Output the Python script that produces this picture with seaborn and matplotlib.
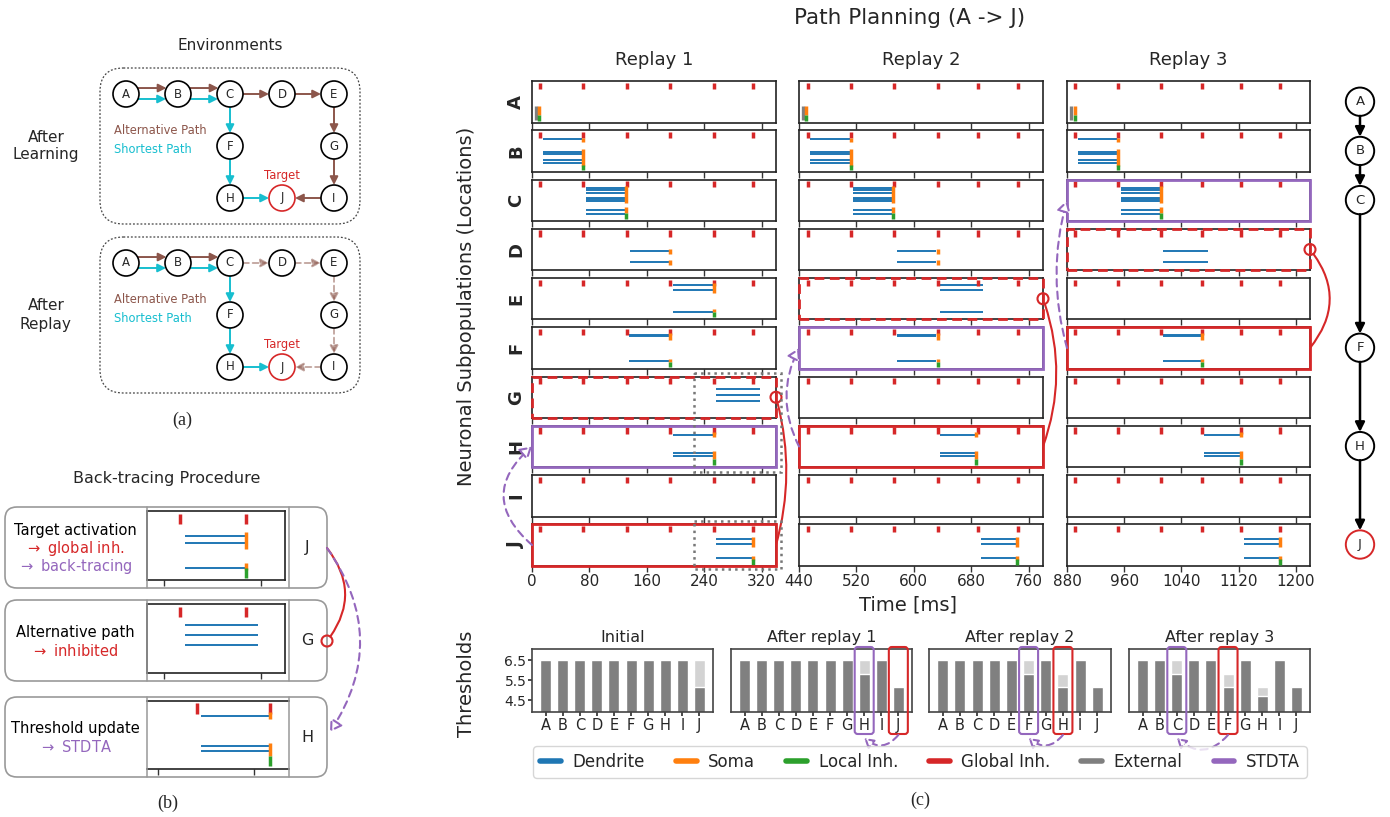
import numpy as np
import pandas as pd
import matplotlib
matplotlib.use("Agg")
import matplotlib.pyplot as plt
import seaborn as sns
from matplotlib.patches import Rectangle, FancyBboxPatch, FancyArrowPatch, Circle
from matplotlib.lines import Line2D
from matplotlib.transforms import Affine2D

# ------------------------------------------------------------------ data
LOCATIONS = list("ABCDEFGHIJ")
REPLAY_TITLES = ["Replay 1", "Replay 2", "Replay 3"]
REPLAY_XLIM = [(0, 340), (440, 780), (880, 1220)]
REPLAY_XTICKS = [[0, 80, 160, 240, 320], [440, 520, 600, 680, 760], [880, 960, 1040, 1120, 1200]]
GLOBAL_INH_TIMES = [[11, 71, 132, 192, 253, 308],
                    [452, 512, 572, 633, 690, 745],
                    [891, 951, 1012, 1069, 1123, 1178]]

# neuron levels (fraction of the row height) of dendritic plateaus per location
DENDRITE_LEVELS = {
    "B": [0.80, 0.47, 0.43, 0.29, 0.20],
    "C": [0.79, 0.75, 0.67, 0.56, 0.52, 0.48, 0.27, 0.16],
    "D": [0.47, 0.19],
    "E": [0.83, 0.72, 0.18],
    "F": [0.81, 0.78, 0.18],
    "G": [0.70, 0.55, 0.41],
    "H": [0.78, 0.34, 0.26],
    "J": [0.64, 0.53, 0.18],
}
# (replay, location, start ms, end ms)
DENDRITE_BURSTS = [
    (0, "B", 15, 70), (0, "C", 75, 130), (0, "D", 136, 191), (0, "E", 197, 252),
    (0, "F", 135, 191), (0, "G", 257, 318), (0, "H", 196, 252), (0, "J", 257, 307),
    (1, "B", 455, 511), (1, "C", 515, 570), (1, "D", 576, 631), (1, "E", 637, 697),
    (1, "F", 576, 631), (1, "H", 637, 685), (1, "J", 693, 743),
    (2, "B", 895, 950), (2, "C", 955, 1010), (2, "D", 1015, 1077),
    (2, "F", 1015, 1068), (2, "H", 1072, 1122), (2, "J", 1127, 1177),
]
SOMA_SPANS = {
    "A": [(0.17, 0.39)], "B": [(0.71, 0.81), (0.15, 0.56)], "C": [(0.43, 0.84), (0.20, 0.34)],
    "D": [(0.40, 0.52), (0.12, 0.24)], "E": [(0.65, 0.87), (0.17, 0.25)],
    "F": [(0.70, 0.85), (0.17, 0.24)], "H": [(0.73, 0.84), (0.20, 0.38)],
    "J": [(0.45, 0.70), (0.14, 0.24)],
}
SOMA_TIMES = [
    (0, "A", 9.5), (0, "B", 71), (0, "C", 131), (0, "D", 192), (0, "E", 253), (0, "F", 192),
    (0, "H", 253), (0, "J", 308),
    (1, "A", 450), (1, "B", 512), (1, "C", 571), (1, "D", 633), (1, "F", 633),
    (1, "H", 686), (1, "J", 744),
    (2, "A", 890.5), (2, "B", 952), (2, "C", 1011), (2, "F", 1069), (2, "H", 1123), (2, "J", 1178),
]
LOCAL_INH_SPANS = {"A": (0.04, 0.17), "B": (0.05, 0.17), "C": (0.05, 0.20), "E": (0.05, 0.17),
                   "F": (0.05, 0.17), "H": (0.05, 0.20), "J": (0.03, 0.17)}
LOCAL_INH_TIMES = [
    (0, "A", 9.5), (0, "B", 71), (0, "C", 131), (0, "E", 253), (0, "F", 192), (0, "H", 253), (0, "J", 308),
    (1, "A", 450), (1, "B", 512), (1, "C", 571), (1, "F", 633), (1, "H", 686), (1, "J", 744),
    (2, "A", 890.5), (2, "B", 952), (2, "C", 1011), (2, "F", 1069), (2, "H", 1123), (2, "J", 1178),
]
EXTERNAL_SPAN = (0.07, 0.39)
EXTERNAL_TIMES = [(0, "A", 5.5), (1, "A", 446), (2, "A", 886)]

TARGET_ROW = ["J", "H", "F"]
INHIBITED_ROW = ["G", "E", "D"]
STDTA_ROW = ["H", "F", "C"]

THR_TITLES = ["Initial", "After replay 1", "After replay 2", "After replay 3"]
THR_DEFAULT = [6.5, 6.5, 6.5, 6.5, 6.5, 6.5, 6.5, 6.5, 6.5, 6.5]
THR_INITIAL = [6.5, 6.5, 6.5, 6.5, 6.5, 6.5, 6.5, 6.5, 6.5, 5.15]
THR_AFTER_1 = [6.5, 6.5, 6.5, 6.5, 6.5, 6.5, 6.5, 5.8, 6.5, 5.15]
THR_AFTER_2 = [6.5, 6.5, 6.5, 6.5, 6.5, 5.8, 6.5, 5.15, 6.5, 5.15]
THR_AFTER_3 = [6.5, 6.5, 5.8, 6.5, 6.5, 5.15, 6.5, 4.7, 6.5, 5.15]
THR_TICKS = [4.5, 5.5, 6.5]
THR_HIGHLIGHT = [None, ("H", "J"), ("F", "H"), ("C", "F")]

PATH = ["A", "B", "C", "F", "H", "J"]
ENV_POS = {"A": (0, 0), "B": (1, 0), "C": (2, 0), "D": (3, 0), "E": (4, 0),
           "F": (2, 1), "G": (4, 1), "H": (2, 2), "J": (3, 2), "I": (4, 2)}
ALT_EDGES = [("A", "B"), ("B", "C"), ("C", "D"), ("D", "E"), ("E", "G"), ("G", "I"), ("I", "J")]
SHORT_EDGES = [("A", "B"), ("B", "C"), ("C", "F"), ("F", "H"), ("H", "J")]
ENV_ROWS = ["After\nLearning", "After\nReplay"]

BT_ROWS = ["J", "G", "H"]
BT_XLIM = [(226, 340), (226, 340), (151, 269)]
BT_XTICKS = [[240, 320], [240, 320], [160, 240]]
BT_TEXT = [[("Target activation", "k"), ("$\\rightarrow$ global inh.", "red"), ("$\\rightarrow$ back-tracing", "purple")],
           [("Alternative path", "k"), ("$\\rightarrow$ inhibited", "red")],
           [("Threshold update", "k"), ("$\\rightarrow$ STDTA", "purple")]]

LEGEND_LABELS = ["Dendrite", "Soma", "Local Inh.", "Global Inh.", "External", "STDTA"]

# ------------------------------------------------------------------ style
sns.set_theme(style="white")
plt.rcParams["font.family"] = ["DejaVu Sans"]
pal = sns.color_palette("tab10")
C_BLUE, C_ORANGE, C_GREEN, C_RED, C_PURPLE, C_BROWN = pal[0], pal[1], pal[2], pal[3], pal[4], pal[5]
C_GRAY, C_CYAN = pal[7], pal[9]
COLORS = {"k": "black", "red": C_RED, "purple": C_PURPLE}

W, H, DPI = 1390, 817, 100
fig = plt.figure(figsize=(W / DPI, H / DPI), dpi=DPI)
fig.patch.set_facecolor("white")
PX = Affine2D().scale(1 / DPI, -1 / DPI).translate(0, H / DPI) + fig.dpi_scale_trans


def px_ax(x0, y0, x1, y1):
    return fig.add_axes([x0 / W, 1 - y1 / H, (x1 - x0) / W, (y1 - y0) / H])


def ftext(x, y, s, **kw):
    kw.setdefault("ha", "center")
    kw.setdefault("va", "center")
    return fig.text(x, y, s, transform=PX, **kw)


def draw_raster(ax, r, loc):
    ax.vlines(GLOBAL_INH_TIMES[r], 0.81, 0.96, color=C_RED, lw=2.5, zorder=3)
    for rr, l, t0, t1 in DENDRITE_BURSTS:
        if rr == r and l == loc:
            ax.hlines(DENDRITE_LEVELS[l], t0, t1, color=C_BLUE, lw=1.4, zorder=2)
    for rr, l, t in EXTERNAL_TIMES:
        if rr == r and l == loc:
            ax.vlines(t, *EXTERNAL_SPAN, color=C_GRAY, lw=2.4, zorder=3)
    for rr, l, t in SOMA_TIMES:
        if rr == r and l == loc:
            for lo, hi in SOMA_SPANS[l]:
                ax.vlines(t, lo, hi, color=C_ORANGE, lw=2.5, zorder=4)
    for rr, l, t in LOCAL_INH_TIMES:
        if rr == r and l == loc:
            ax.vlines(t, *LOCAL_INH_SPANS[l], color=C_GREEN, lw=2.5, zorder=4)


def style_raster(ax, xlim, xticks, labels):
    ax.set_xlim(*xlim)
    ax.set_ylim(0, 1)
    ax.set_xticks(xticks)
    ax.set_yticks([])
    ax.tick_params(axis="x", bottom=True, length=4, width=1, color="#333",
                   labelsize=11, labelbottom=labels, pad=2)
    for sp in ax.spines.values():
        sp.set_color("#222")
        sp.set_linewidth(1.2)


def frame(ax, color, ls):
    ax.add_patch(Rectangle((0, 0), 1, 1, transform=ax.transAxes, fill=False, ec=color,
                           lw=2, ls=ls, clip_on=False, zorder=10))


def inhib_link(p0, p1, rad):
    fig.add_artist(FancyArrowPatch(p0, p1, transform=PX, connectionstyle=f"arc3,rad={rad}",
                                   arrowstyle="-", color=C_RED, lw=1.5, shrinkA=0, shrinkB=4))
    fig.add_artist(Circle(p1, 5.5, transform=PX, fill=False, ec=C_RED, lw=1.5))


def stdta_link(p0, p1, rad, ms=14):
    fig.add_artist(FancyArrowPatch(p0, p1, transform=PX, connectionstyle=f"arc3,rad={rad}",
                                   arrowstyle="-|>,head_length=0.5,head_width=0.3", mutation_scale=ms,
                                   ec=C_PURPLE, fc="white", lw=1.5, ls=(0, (3.5, 2.5)),
                                   shrinkA=0, shrinkB=0))


# ------------------------------------------------------------------ panel (c) rasters
COL_X = [(532, 776), (799, 1043), (1067, 1310)]
ROW_TOP0, ROW_STEP, ROW_H = 81, 49.25, 41.5


def row_top(i):
    return ROW_TOP0 + i * ROW_STEP


def row_mid(i):
    return row_top(i) + ROW_H / 2


axes = {}
for r in range(3):
    for i, loc in enumerate(LOCATIONS):
        ax = px_ax(COL_X[r][0], row_top(i), COL_X[r][1], row_top(i) + ROW_H)
        style_raster(ax, REPLAY_XLIM[r], REPLAY_XTICKS[r], labels=(i == len(LOCATIONS) - 1))
        draw_raster(ax, r, loc)
        if r == 0:
            ax.set_ylabel(loc, fontsize=13, fontweight="bold", labelpad=5)
        axes[r, loc] = ax
    ftext((COL_X[r][0] + COL_X[r][1]) / 2, 60, REPLAY_TITLES[r], fontsize=13)

RED_RAD = [0.14, 0.18, 0.40]
PURPLE_RAD = [-0.57, -0.25, -0.14]
for r in range(3):
    frame(axes[r, TARGET_ROW[r]], C_RED, "-")
    frame(axes[r, INHIBITED_ROW[r]], C_RED, (0, (3.5, 2)))
    frame(axes[r, STDTA_ROW[r]], C_PURPLE, "-")
    ti = LOCATIONS.index(TARGET_ROW[r])
    ii = LOCATIONS.index(INHIBITED_ROW[r])
    si = LOCATIONS.index(STDTA_ROW[r])
    inhib_link((COL_X[r][1], row_mid(ti)), (COL_X[r][1], row_mid(ii)), RED_RAD[r])
    stdta_link((COL_X[r][0], row_mid(ti)), (COL_X[r][0], row_mid(si)), PURPLE_RAD[r])

# dotted boxes marking the zoomed back-tracing excerpt
x0_bt = COL_X[0][0] + (BT_XLIM[0][0] - REPLAY_XLIM[0][0]) / (REPLAY_XLIM[0][1] - REPLAY_XLIM[0][0]) * (COL_X[0][1] - COL_X[0][0])
gi, hi_, ji = LOCATIONS.index("G"), LOCATIONS.index("H"), LOCATIONS.index("J")
for ya, yb in [(row_top(gi) - 4, row_top(hi_) + ROW_H + 5), (row_top(ji) - 3, row_top(ji) + ROW_H + 3)]:
    fig.add_artist(Rectangle((x0_bt, ya), COL_X[0][1] + 5 - x0_bt, yb - ya, transform=PX,
                             fill=False, ec="#777", lw=1.8, ls=":"))

ftext(910, 18, "Path Planning (A -> J)", fontsize=15.5)
ftext(466, 306, "Neuronal Subpopulations (Locations)", fontsize=14, rotation=90)
ftext(908, 605, "Time [ms]", fontsize=14)

# right-hand path chain
cax = px_ax(1330, ROW_TOP0, 1390, row_top(9) + ROW_H)
cax.set_xlim(-0.609, 0.609)
cax.set_ylim(9 + (ROW_H / 2 + 0.5) / ROW_STEP, -(ROW_H / 2) / ROW_STEP)
cax.axis("off")
RN = 0.288
for k, node in enumerate(PATH):
    yi = LOCATIONS.index(node)
    cax.add_patch(Circle((0, yi), RN, fill=False, ec=C_RED if node == "J" else "black", lw=1.4, clip_on=False))
    cax.text(0, yi, node, ha="center", va="center", fontsize=9.5)
    if k < len(PATH) - 1:
        yn = LOCATIONS.index(PATH[k + 1])
        cax.add_patch(FancyArrowPatch((0, yi + RN), (0, yn - RN), arrowstyle="-|>", mutation_scale=14,
                                      color="black", lw=1.8, shrinkA=0, shrinkB=0, clip_on=False))

# ------------------------------------------------------------------ thresholds
THR_AX_X = [(532, 713), (731, 912), (929, 1111), (1129, 1310)]
THR_Y = (649, 712)
THR_STAGES = [THR_DEFAULT, THR_INITIAL, THR_AFTER_1, THR_AFTER_2, THR_AFTER_3]
XL = (-0.8, 9.8)
for s in range(4):
    ax = px_ax(THR_AX_X[s][0], THR_Y[0], THR_AX_X[s][1], THR_Y[1])
    df = pd.DataFrame({"loc": LOCATIONS, "before": THR_STAGES[s], "after": THR_STAGES[s + 1]})
    sns.barplot(data=df, x="loc", y="before", color="#d3d3d3", saturation=1, width=0.64, ax=ax)
    sns.barplot(data=df, x="loc", y="after", color="#808080", saturation=1, width=0.64, ax=ax)
    ax.set_xlim(*XL)
    ax.set_ylim(3.9, 7.05)
    ax.set_xlabel("")
    ax.set_ylabel("")
    ax.set_title(THR_TITLES[s], fontsize=11.5, pad=5)
    ax.tick_params(axis="x", bottom=True, length=3, labelsize=10.5, pad=1, color="#333")
    if s == 0:
        ax.set_yticks(THR_TICKS)
        ax.set_yticklabels([f"{v}" for v in THR_TICKS])
        ax.tick_params(axis="y", left=True, length=3, labelsize=10, pad=1, color="#333")
    else:
        ax.set_yticks([])
    for sp in ax.spines.values():
        sp.set_color("#444")
        sp.set_linewidth(1.2)
    if THR_HIGHLIGHT[s] is not None:
        wpx = THR_AX_X[s][1] - THR_AX_X[s][0]
        cx = {l: THR_AX_X[s][0] + (LOCATIONS.index(l) - XL[0]) / (XL[1] - XL[0]) * wpx
              for l in THR_HIGHLIGHT[s]}
        p, q = THR_HIGHLIGHT[s]
        for l, col in [(p, C_PURPLE), (q, C_RED)]:
            fig.add_artist(FancyBboxPatch((cx[l] - 9.5, 647), 19, 87, transform=PX,
                                          boxstyle="round,pad=0,rounding_size=3",
                                          fill=False, ec=col, lw=1.5))
        stdta_link((cx[q], 735), (cx[p], 738), -0.5, ms=11)

ftext(466, 684, "Thresholds", fontsize=14, rotation=90)

handles = [Line2D([0], [0], color=c, lw=4) for c in [C_BLUE, C_ORANGE, C_GREEN, C_RED, C_GRAY, C_PURPLE]]
fig.legend(handles, LEGEND_LABELS, loc="center", bbox_to_anchor=(920 / W, 1 - 762 / H), ncol=6,
           fontsize=12, handlelength=1.25, handletextpad=0.7, columnspacing=1.85,
           frameon=True, fancybox=True, edgecolor="#ccc", borderpad=0.4)

# ------------------------------------------------------------------ panel (a)
ftext(230, 45, "Environments", fontsize=11)
RNODE = 0.25
for k, (y0, y1) in enumerate([(68, 224), (237, 393)]):
    ax = px_ax(100, y0, 360, y1)
    ax.set_xlim(-0.5, 4.5)
    ax.set_ylim(2.5, -0.5)
    ax.axis("off")
    ax.add_patch(FancyBboxPatch((-0.5, -0.5), 5, 3, boxstyle="round,pad=0,rounding_size=0.45",
                                fill=False, ec="#444", lw=0.9, ls=(0, (1.5, 1.5)), clip_on=False))
    for n, (x, y) in ENV_POS.items():
        ax.add_patch(Circle((x, y), RNODE, fc="white", ec=C_RED if n == "J" else "black", lw=1.2, zorder=3))
        ax.text(x, y, n, ha="center", va="center", fontsize=8.5, zorder=4)
    both = set(ALT_EDGES) & set(SHORT_EDGES)
    for edges, col, off in [(ALT_EDGES, C_BROWN, -0.115), (SHORT_EDGES, C_CYAN, 0.096)]:
        for a, b in edges:
            (xa, ya), (xb, yb) = ENV_POS[a], ENV_POS[b]
            d = np.hypot(xb - xa, yb - ya)
            ux, uy = (xb - xa) / d, (yb - ya) / d
            o = off if (a, b) in both else 0.0
            along = np.sqrt(RNODE ** 2 - o ** 2)
            pa = (xa + ux * along - uy * o, ya + uy * along + ux * o)
            pb = (xb - ux * along - uy * o, yb - uy * along + ux * o)
            faded = (k == 1 and col == C_BROWN and (a, b) not in both)
            ax.add_patch(FancyArrowPatch(pa, pb, arrowstyle="-|>", mutation_scale=12,
                                         color=col, lw=1.4, alpha=0.5 if faded else 1.0,
                                         ls=(0, (3, 2)) if faded else "-",
                                         shrinkA=0, shrinkB=0, zorder=2))
    ax.text(-0.23, 0.706, "Alternative Path", color=C_BROWN, fontsize=8.3, ha="left", va="center")
    ax.text(-0.23, 1.06, "Shortest Path", color=C_CYAN, fontsize=8.3, ha="left", va="center")
    ax.text(3.0, 1.57, "Target", color=C_RED, fontsize=8.3, ha="center", va="center")
    ax.text(-1.54, 1.0, ENV_ROWS[k], fontsize=11, ha="center", va="center", linespacing=1.25)
ftext(182, 420, "(a)", fontsize=13, family="Liberation Serif")

# ------------------------------------------------------------------ panel (b)
ftext(167, 479, "Back-tracing Procedure", fontsize=11.5)
BT_BOX_Y = [(507, 588), (600, 681), (697, 777)]
BT_AX = [(147.3, 511, 285, 580), (147.3, 604, 285, 673), (147.3, 700.7, 289.3, 769.3)]
for k in range(3):
    y0, y1 = BT_BOX_Y[k]
    fig.add_artist(FancyBboxPatch((5, y0), 322, y1 - y0, transform=PX,
                                  boxstyle="round,pad=0,rounding_size=12", fill=False, ec="#999", lw=1.2))
    for xv in (147.3, 289.3):
        fig.add_artist(Line2D([xv, xv], [y0, y1], transform=PX, color="#999", lw=1.1))
    bx = px_ax(*BT_AX[k])
    style_raster(bx, BT_XLIM[k], BT_XTICKS[k], labels=False)
    draw_raster(bx, 0, BT_ROWS[k])
    if k == 2:
        bx.spines["left"].set_visible(False)
        bx.spines["right"].set_visible(False)
    yc = (y0 + y1) / 2 + 1
    lines = BT_TEXT[k]
    for j, (s, c) in enumerate(lines):
        ftext(75, yc + (j - (len(lines) - 1) / 2) * 18, s, fontsize=10.5, color=COLORS[c])
    ftext(307, (y0 + y1) / 2, BT_ROWS[k], fontsize=11.5)
inhib_link((327, 548), (327, 641), -0.39)
stdta_link((327, 548), (330, 732), -0.34)
ftext(168, 803, "(b)", fontsize=13, family="Liberation Serif")
ftext(920, 800, "(c)", fontsize=13, family="Liberation Serif")

fig.savefig("out.png", dpi=DPI, facecolor="white")
